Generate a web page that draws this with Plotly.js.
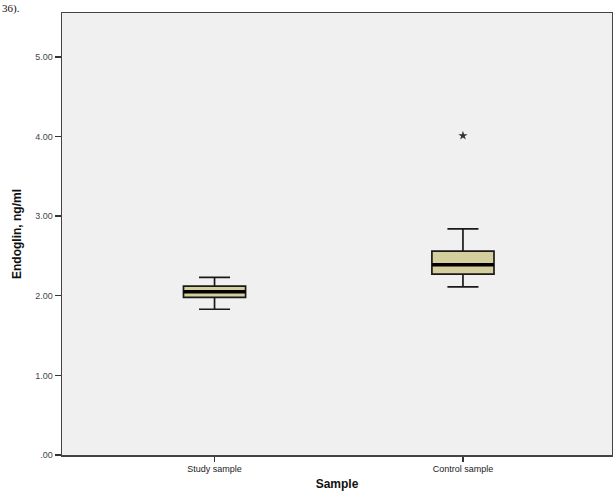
<!DOCTYPE html>
<html>
<head>
<meta charset="utf-8">
<script src="https://cdn.plot.ly/plotly-3.0.1.min.js"></script>
<style>html,body{margin:0;padding:0;background:#fff;}#chart{width:613px;height:501px;}</style>
</head>
<body>
<div id="chart"></div>
<script>
// Data
const categories = ["Study sample", "Control sample"];
const lowerWhisker = [1.83, 2.11];
const q1 = [1.98, 2.27];
const median = [2.05, 2.39];
const q3 = [2.12, 2.56];
const upperWhisker = [2.23, 2.84];
const outlierX = [1];
const outlierY = [4.01];
const yTickVals = [0, 1, 2, 3, 4, 5];
const yTickText = [".00", "1.00", "2.00", "3.00", "4.00", "5.00"];

const pos = categories.map((c, i) => i);
const boxWidth = 0.25;

const traces = [{
  type: 'box',
  x: pos,
  q1: q1, median: median, q3: q3,
  lowerfence: lowerWhisker, upperfence: upperWhisker,
  width: boxWidth,
  whiskerwidth: 0.5,
  fillcolor: '#d5cf9d',
  line: {color: '#1a1a1a', width: 1.7},
  boxpoints: false,
  hoverinfo: 'skip',
  showlegend: false
}];
// thicker median lines
pos.forEach((p, i) => {
  traces.push({
    type: 'scatter', mode: 'lines',
    x: [p - boxWidth / 2, p + boxWidth / 2], y: [median[i], median[i]],
    line: {color: '#000', width: 3.5}, showlegend: false, hoverinfo: 'skip'
  });
});
traces.push({
  type: 'scatter', mode: 'markers',
  x: outlierX, y: outlierY,
  marker: {symbol: 'star', size: 7, color: '#333'},
  showlegend: false, hoverinfo: 'skip'
});

const layout = {
  width: 613, height: 501,
  margin: {l: 62, r: 1, t: 13, b: 46},
  paper_bgcolor: '#ffffff',
  plot_bgcolor: '#f0f0f0',
  font: {family: 'Liberation Sans, Arial, sans-serif', color: '#222'},
  xaxis: {
    range: [-0.614, 1.6],
    tickvals: pos, ticktext: categories,
    ticks: 'outside', ticklen: 5, tickcolor: '#333', tickwidth: 1.5,
    tickfont: {size: 9, color: '#222'},
    showgrid: false, zeroline: false,
    showline: true, linecolor: '#444', linewidth: 1.5, mirror: true,
    title: {text: '<b>Sample</b>', font: {size: 12, color: '#111'}, standoff: 6}
  },
  yaxis: {
    range: [0, 5.55],
    tickvals: yTickVals, ticktext: yTickText,
    ticks: 'outside', ticklen: 6, tickcolor: '#333', tickwidth: 1.5,
    tickfont: {size: 9, color: '#444'},
    showgrid: false, zeroline: false,
    showline: true, linecolor: '#444', linewidth: 1.5, mirror: true,
    title: {text: '<b>Endoglin, ng/ml</b>', font: {size: 12, color: '#111'}, standoff: 11}
  },
  annotations: [{
    text: '36).', xref: 'paper', yref: 'paper',
    x: -62/551, y: 1 + 13/442, xanchor: 'left', yanchor: 'top',
    showarrow: false, font: {size: 11, color: '#111', family: 'Liberation Serif, serif'}
  }]
};

Plotly.newPlot('chart', traces, layout, {displayModeBar: false, staticPlot: true});
</script>
</body>
</html>
